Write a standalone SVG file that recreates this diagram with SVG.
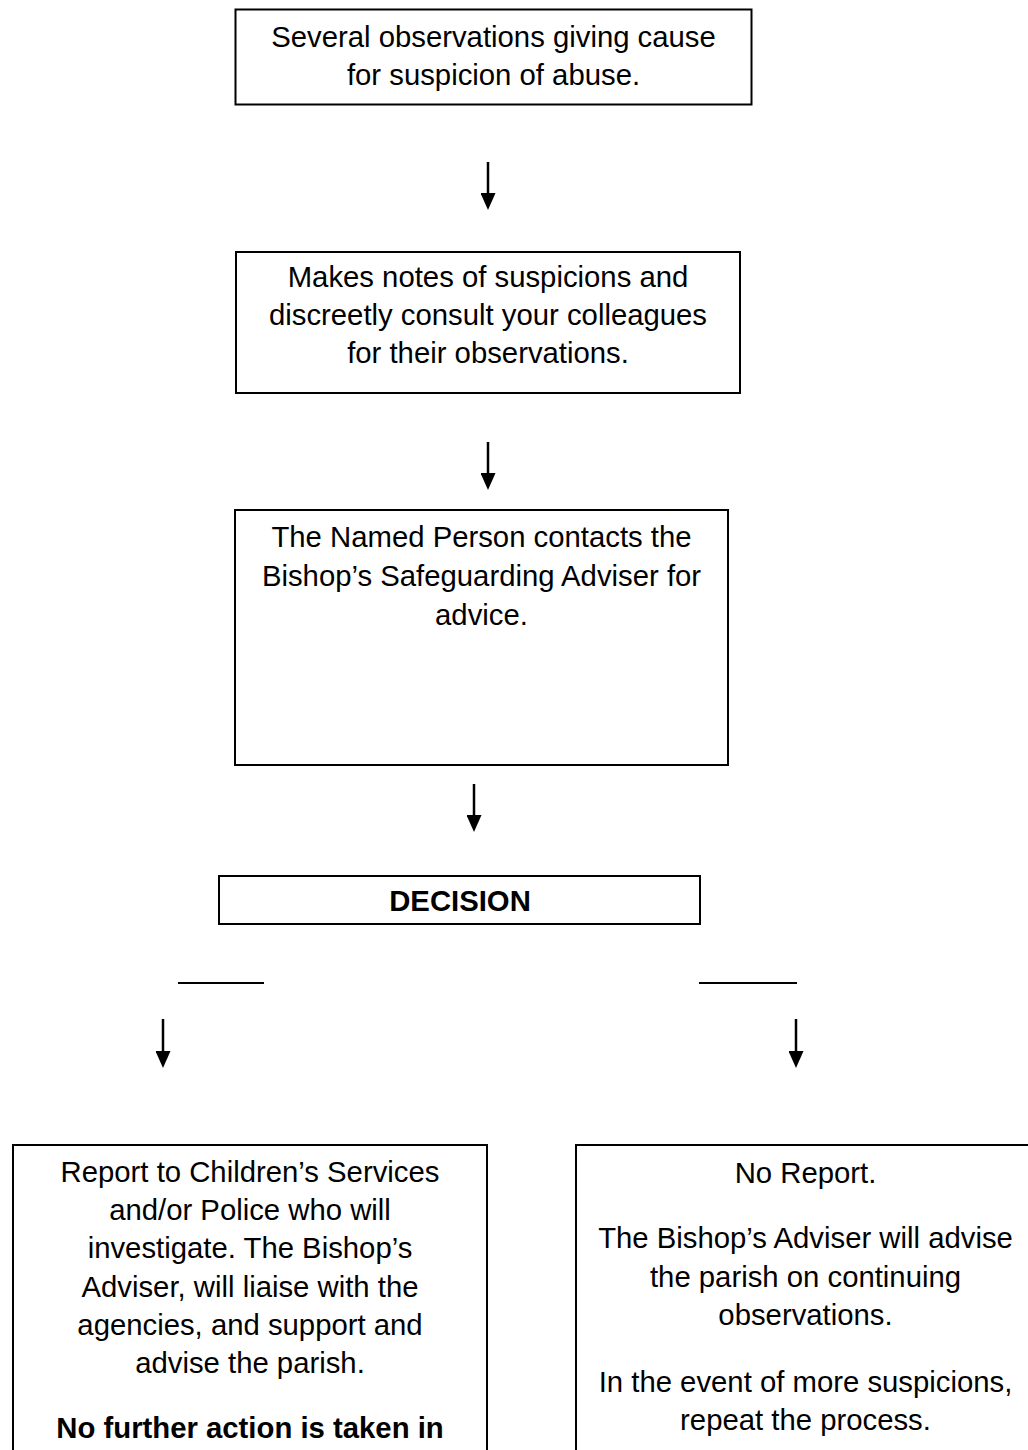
<svg xmlns="http://www.w3.org/2000/svg" width="1028" height="1450" viewBox="0 0 1028 1450">
<defs>
<style>
.box{fill:#fff;stroke:#000;stroke-width:2}
.t{font-family:"Liberation Sans",Arial,sans-serif;font-size:29.3px;fill:#000;text-anchor:middle}
.b{font-weight:bold}
.conn{stroke:#000;stroke-width:2.5;fill:none}
.rule{stroke:#000;stroke-width:2;fill:none}
</style>
<marker id="ah" markerUnits="userSpaceOnUse" markerWidth="17" markerHeight="15" refX="0" refY="7.5" orient="auto" viewBox="0 0 17 15">
<path d="M0,0 L17,7.5 L0,15 z" fill="#000"/>
</marker>
</defs>
<rect width="1028" height="1450" fill="#fff"/>

<g id="n1">
<rect class="box" x="235.5" y="9.5" width="516" height="95"/>
<text class="t" x="493.5" y="47">Several observations giving cause</text>
<text class="t" x="493.5" y="85">for suspicion of abuse.</text>
</g>

<g id="n2">
<rect class="box" x="236" y="252" width="504" height="141"/>
<text class="t" x="488" y="287">Makes notes of suspicions and</text>
<text class="t" x="488" y="325">discreetly consult your colleagues</text>
<text class="t" x="488" y="363">for their observations.</text>
</g>

<g id="n3">
<rect class="box" x="235" y="510" width="493" height="255"/>
<text class="t" x="481.5" y="547">The Named Person contacts the</text>
<text class="t" x="481.5" y="586">Bishop’s Safeguarding Adviser for</text>
<text class="t" x="481.5" y="625">advice.</text>
</g>

<g id="n4">
<rect class="box" x="219" y="876" width="481" height="48"/>
<text class="t b" x="460" y="911">DECISION</text>
</g>

<g id="n5">
<rect class="box" x="13" y="1145" width="474" height="330"/>
<text class="t" x="250" y="1182">Report to Children’s Services</text>
<text class="t" x="250" y="1220">and/or Police who will</text>
<text class="t" x="250" y="1258">investigate. The Bishop’s</text>
<text class="t" x="250" y="1297">Adviser, will liaise with the</text>
<text class="t" x="250" y="1335">agencies, and support and</text>
<text class="t" x="250" y="1373">advise the parish.</text>
<text class="t b" x="250" y="1438">No further action is taken in</text>
</g>

<g id="n6">
<rect class="box" x="576" y="1145" width="459" height="330"/>
<text class="t" x="805.5" y="1183">No Report.</text>
<text class="t" x="805.5" y="1248">The Bishop’s Adviser will advise</text>
<text class="t" x="805.5" y="1287">the parish on continuing</text>
<text class="t" x="805.5" y="1325">observations.</text>
<text class="t" x="805.5" y="1392">In the event of more suspicions,</text>
<text class="t" x="805.5" y="1430">repeat the process.</text>
</g>

<g id="connectors">
<line class="conn" x1="488" y1="162" x2="488" y2="193" marker-end="url(#ah)"/>
<line class="conn" x1="488" y1="442" x2="488" y2="473" marker-end="url(#ah)"/>
<line class="conn" x1="474" y1="784" x2="474" y2="815" marker-end="url(#ah)"/>
<line class="rule" x1="178" y1="983" x2="264" y2="983"/>
<line class="rule" x1="699" y1="983" x2="797" y2="983"/>
<line class="conn" x1="163" y1="1019" x2="163" y2="1051" marker-end="url(#ah)"/>
<line class="conn" x1="796" y1="1019" x2="796" y2="1051" marker-end="url(#ah)"/>
</g>
</svg>
